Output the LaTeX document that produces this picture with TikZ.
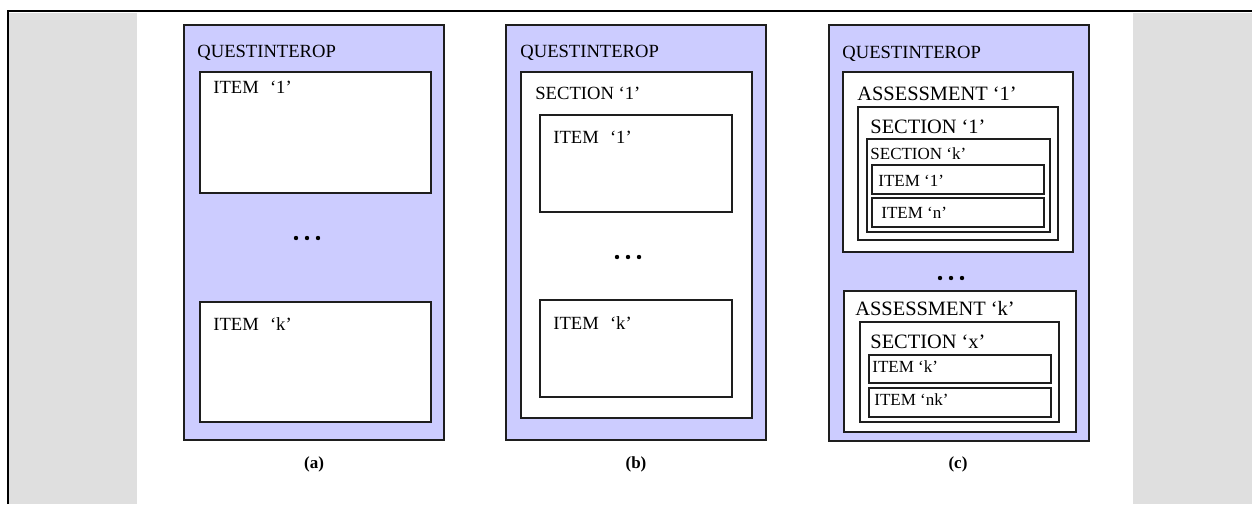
\documentclass[tikz,border=0pt]{standalone}
\usepackage{fontspec}
\setmainfont{Liberation Serif}
\usetikzlibrary{fit}
\definecolor{panelblue}{HTML}{CCCCFF}
\definecolor{sidegray}{HTML}{DFDFDF}
\definecolor{edge}{HTML}{1E1E1E}

\begin{document}
\begin{tikzpicture}[x=0.5pt,y=-0.5pt,
  outerbox/.style={draw=edge, line width=0.9pt, fill=panelblue, inner sep=0pt},
  innerbox/.style={draw=edge, line width=0.9pt, fill=white, inner sep=0pt},
  lbl/.style={anchor=base west, inner sep=0pt, font=\fontsize{9.3}{11}\selectfont},
  lblbig/.style={anchor=base west, inner sep=0pt, font=\fontsize{10.2}{12}\selectfont},
  lblsmall/.style={anchor=base west, inner sep=0pt, font=\fontsize{8.5}{10}\selectfont},
  caption/.style={anchor=base, inner sep=0pt, font=\fontsize{8.5}{10}\selectfont\bfseries},
  dotmark/.style={fill=black}
]
\useasboundingbox (0,0) rectangle (1252,504);

% side margins and page frame
\fill[sidegray] (9,13) rectangle (137,504);
\fill[sidegray] (1133,13) rectangle (1252,504);
\draw[line width=1.1pt] (8,504) -- (8,11) -- (1252,11);

% ---------- (a) items directly in the container ----------
\node[outerbox, fit={(184,25) (444,440)}] (qa) {};
\node[lbl] (qaT) at (197,57) {QUESTINTEROP};
\node[innerbox, fit={(200,72) (431,193)}] (a1) {};
\node[lbl] (a1T) at (213,93) {ITEM\hspace{0.6em}‘1’};
\foreach \dx in {-11,0,11} \fill[dotmark] (307+\dx,238) circle (1.1pt);
\node[innerbox, fit={(200,302) (431,422)}] (ak) {};
\node[lbl] (akT) at (213,330) {ITEM\hspace{0.6em}‘k’};
\node[caption] (capa) at (314,468) {(a)};

% ---------- (b) items inside one section ----------
\node[outerbox, fit={(506,25) (766,440)}] (qb) {};
\node[lbl] (qbT) at (520,57) {QUESTINTEROP};
\node[innerbox, fit={(521,72) (752,418)}] (bs) {};
\node[lbl] (bsT) at (535,99) {SECTION ‘1’};
\node[innerbox, fit={(540,115) (732,212)}] (b1) {};
\node[lbl] (b1T) at (553,143) {ITEM\hspace{0.6em}‘1’};
\foreach \dx in {-11,0,11} \fill[dotmark] (628+\dx,257) circle (1.1pt);
\node[innerbox, fit={(540,300) (732,397)}] (bk) {};
\node[lbl] (bkT) at (553,329) {ITEM\hspace{0.6em}‘k’};
\node[caption] (capb) at (636,468) {(b)};

% ---------- (c) assessments, nested sections, items ----------
\node[outerbox, fit={(829,25) (1089,441)}] (qc) {};
\node[lbl] (qcT) at (842,58) {QUESTINTEROP};
\node[innerbox, fit={(843,72) (1073,252)}] (c1) {};
\node[lblbig] (c1T) at (857,100) {ASSESSMENT ‘1’};
\node[innerbox, fit={(858,107) (1058,240)}] (c1s) {};
\node[lblbig] (c1sT) at (870,133) {SECTION ‘1’};
\node[innerbox, fit={(867,139) (1050,232)}] (c1k) {};
\node[lblsmall] (c1kT) at (870,159) {SECTION ‘k’};
\node[innerbox, fit={(872,165) (1044,194)}] (c1i1) {};
\node[lblsmall] (c1i1T) at (878,186) {ITEM ‘1’};
\node[innerbox, fit={(872,198) (1044,227)}] (c1in) {};
\node[lblsmall] (c1inT) at (881,218) {ITEM ‘n’};
\foreach \dx in {-11,0,11} \fill[dotmark] (951+\dx,278) circle (1.1pt);
\node[innerbox, fit={(844,291) (1076,432)}] (ck) {};
\node[lblbig] (ckT) at (855,315) {ASSESSMENT ‘k’};
\node[innerbox, fit={(860,322) (1059,422)}] (cks) {};
\node[lblbig] (cksT) at (870,348) {SECTION ‘x’};
\node[innerbox, fit={(869,355) (1051,383)}] (ckik) {};
\node[lblsmall] (ckikT) at (872,372) {ITEM ‘k’};
\node[innerbox, fit={(869,388) (1051,417)}] (ckin) {};
\node[lblsmall] (ckinT) at (874,405) {ITEM ‘nk’};
\node[caption] (capc) at (958,468) {(c)};
\end{tikzpicture}
\end{document}
